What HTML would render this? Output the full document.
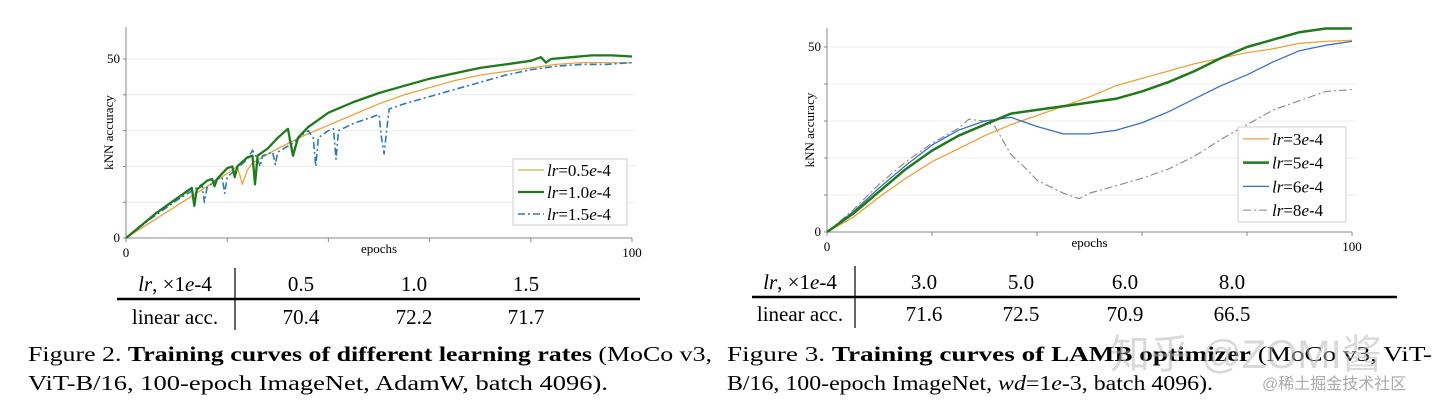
<!DOCTYPE html>
<html><head><meta charset="utf-8"><style>
html,body{margin:0;padding:0;background:#fff;}
svg{display:block;font-family:"Liberation Serif","Noto Serif CJK SC",serif;}
</style></head><body>
<svg id="root" width="1440" height="408" viewBox="0 0 1440 408" xmlns="http://www.w3.org/2000/svg">
<g id="c1"></g>
<g id="c2"></g>

<!-- left table -->
<g font-size="21" text-anchor="middle">
<text x="175" y="291"><tspan font-style="italic">lr</tspan>, ×1<tspan font-style="italic">e</tspan>-4</text>
<text x="301" y="291">0.5</text>
<text x="414" y="291">1.0</text>
<text x="526" y="291">1.5</text>
<line x1="117" y1="299" x2="640" y2="299" stroke="#000" stroke-width="2.5"/>
<line x1="235" y1="268" x2="235" y2="330" stroke="#000" stroke-width="1.2"/>
<text x="175" y="324">linear acc.</text>
<text x="301" y="324">70.4</text>
<text x="414" y="324">72.2</text>
<text x="526" y="324">71.7</text>
</g>

<!-- right table -->
<g font-size="21" text-anchor="middle">
<text x="800" y="289"><tspan font-style="italic">lr</tspan>, ×1<tspan font-style="italic">e</tspan>-4</text>
<text x="924" y="289">3.0</text>
<text x="1021" y="289">5.0</text>
<text x="1125" y="289">6.0</text>
<text x="1232" y="289">8.0</text>
<line x1="752" y1="297" x2="1397" y2="297" stroke="#000" stroke-width="2.5"/>
<line x1="855" y1="266" x2="855" y2="328" stroke="#000" stroke-width="1.2"/>
<text x="800" y="321">linear acc.</text>
<text x="924" y="321">71.6</text>
<text x="1021" y="321">72.5</text>
<text x="1125" y="321">70.9</text>
<text x="1232" y="321">66.5</text>
</g>

<!-- captions -->
<g font-size="21">
<text x="28" y="361" textLength="684" lengthAdjust="spacingAndGlyphs">Figure 2.  <tspan font-weight="bold">Training curves of different learning rates</tspan> (MoCo v3,</text>
<text x="28" y="390" textLength="580" lengthAdjust="spacingAndGlyphs">ViT-B/16, 100-epoch ImageNet, AdamW, batch 4096).</text>
<text x="727" y="361" textLength="705" lengthAdjust="spacingAndGlyphs">Figure 3.  <tspan font-weight="bold">Training curves of LAMB optimizer</tspan> (MoCo v3, ViT-</text>
<text x="727" y="390" textLength="486" lengthAdjust="spacingAndGlyphs">B/16, 100-epoch ImageNet, <tspan font-style="italic">wd</tspan>=1<tspan font-style="italic">e</tspan>-3, batch 4096).</text>
<text x="1110" y="368" font-size="40" fill="#bbb" opacity="0.55" font-family="Liberation Sans, Noto Sans CJK SC, sans-serif">知乎 @ZOMI酱</text>
<text x="1262" y="389" font-size="16" fill="#aaa" font-family="Liberation Sans, Noto Sans CJK SC, sans-serif">@稀土掘金技术社区</text>
</g>
</svg>
<script>
// ---- Chart 1 data ----
const c1OrangeEpochs=[0,5,10,15,20,22,23,24,25,30,35,40,45,50,55,60,65,70,75,80,85,90,95,100];
const c1OrangeValues=[0,4.5,9,13.5,18,20,15,19,21,25,28.5,31.5,34.5,37.5,40,42,44,45.5,46.5,47.5,48.5,49,49,48.9];
const c1GreenEpochs=[0,3,6,9,12,13,13.5,14,16,17,17.5,18,20,21,21.5,22,24,25,25.5,26,28,30,32,33,34,36,38,40,45,50,55,60,65,70,75,80,82,83,84,88,92,96,100];
const c1GreenValues=[0,3.5,7,10,13,14,9,13.5,16,16.5,14.5,16.5,19.5,20,17,20,22.5,23,15,23,25,28,30.5,23,28,31,33,35,38,40.5,42.5,44.5,46,47.5,48.5,49.5,50.5,49,50,50.5,51,51,50.7];
const c1BlueEpochs=[0,5,10,14,15,15.5,16,18,19,19.5,20,22,24,25,26,26.5,27,29,29.5,30,33,35,36,37,37.5,38,40,41,41.5,42,45,50,50.5,51,51.5,52,55,60,65,70,75,80,85,90,95,100];
const c1BlueValues=[0,5.5,10.5,14,15,10,14,16.5,17,12.5,17,19.5,22,24.5,22,20,23,24,20.5,24,26.5,29,30,28,20,28,30,30.5,22,30,32,34.5,28,23.5,30,36,37.5,39.5,41.5,43.5,45.5,47,48,48.5,48.5,49];
const c1YTicks=[0,50];
const c1XTicks=[0,100];
// ---- Chart 2 data ----
const c2Epochs=[0,5,10,15,20,25,30,35,40,45,50,55,60,65,70,75,80,85,90,95,100];
const c2OrangeValues=[0,4,9.5,14.5,19,22.5,26,29,31.5,34,36.5,39.5,41.5,43.5,45.5,47,48.5,49.5,51,51.5,51.8];
const c2GreenValues=[0,5,11,17,22,26,29,32,33,34,35,36,38,40.5,43.5,47,50,52,54,55,55];
const c2BlueEpochs=[0,5,10,15,20,25,30,35,37,40,45,50,55,60,65,70,75,80,85,90,95,100];
const c2BlueValues=[0,5.5,12,18,23.5,27.5,30,31,30,28.5,26.5,26.5,27.5,29.5,32.5,36,39.5,42.5,46,49,50.5,51.5];
const c2GrayEpochs=[0,5,10,15,20,25,27,30,32,35,38,40,45,47,48,50,55,60,65,70,75,80,85,90,95,100];
const c2GrayValues=[0,6,13,19,24,28,30.5,30,28.5,21,17,14,10.5,9.5,9,10.5,12.5,14.5,17,20.5,25,29,33,35.5,38,38.5];
const c2YTicks=[0,50];
const c2XTicks=[0,100];

const NS="http://www.w3.org/2000/svg";
function mk(p,tag,a){const e=document.createElementNS(NS,tag);for(const k in a)e.setAttribute(k,a[k]);p.appendChild(e);return e;}

function axes(g,o){
  const sx=v=>o.x0+(o.x1-o.x0)*v/100, sy=v=>o.y0-(o.y0-o.y50)*v/50;
  for(let v=10;v<=o.ymax;v+=10){const l=mk(g,'line',{x1:o.x0,x2:o.xr,y1:sy(v),y2:sy(v),stroke:'#ececec','stroke-width':1});
    
    }
  const ya=mk(g,'line',{x1:o.x0,x2:o.x0,y1:o.top,y2:o.y0,stroke:'#888','stroke-width':1});
  
  
  const xa=mk(g,'line',{x1:o.x0,x2:o.x1,y1:o.y0,y2:o.y0,stroke:'#888','stroke-width':1});
  
  
  for(let v=0;v<=100;v+=20){const t=mk(g,'line',{x1:sx(v),x2:sx(v),y1:o.y0,y2:o.y0+4,stroke:'#888'});
    
    }
  for(let v=0;v<=o.ymax;v+=10){const t=mk(g,'line',{x1:o.x0-3,x2:o.x0,y1:sy(v),y2:sy(v),stroke:'#888'});
    
    }
  o.yt.forEach(v=>{const t=mk(g,'text',{x:o.x0-6,y:sy(v)+4,'font-size':13,'text-anchor':'end'});t.textContent=v;
    
    });
  o.xt.forEach(v=>{const t=mk(g,'text',{x:sx(v),y:o.y0+19,'font-size':13,'text-anchor':'middle'});t.textContent=v;
    
    });
  const xl=mk(g,'text',{x:(o.x0+o.x1)/2,y:o.y0+15,'font-size':13,'text-anchor':'middle'});xl.textContent='epochs';
  
  
  const cy=(o.top+o.y0)/2;
  const yl=mk(g,'text',{x:o.x0-13,y:cy,'font-size':13,'text-anchor':'middle',transform:`rotate(-90 ${o.x0-13} ${cy})`});yl.textContent='kNN accuracy';
  
  
  return {sx,sy};
}
function series(g,s,ep,vals,style,name){
  const d=ep.map((e,i)=>(i?'L':'M')+s.sx(e).toFixed(1)+','+s.sy(vals[i]).toFixed(1)).join('');
  const p=mk(g,'path',Object.assign({d,fill:'none','stroke-linejoin':'round'},style));
  
  
}
function legend(g,x,y,w,h,items){
  const r=mk(g,'rect',{x,y,width:w,height:h,fill:'#fff',stroke:'#ccc'});
  
  
  const step=h/items.length;
  items.forEach((it,i)=>{const cy=y+step*(i+0.5);
    const l=mk(g,'line',Object.assign({x1:x+5,x2:x+31,y1:cy,y2:cy},it.style));
    
    
    const t=mk(g,'text',{x:x+34,y:cy+6,'font-size':17});
    t.innerHTML='<tspan font-style="italic">lr</tspan>='+it.label.replace('e','<tspan font-style="italic">e</tspan>');
    
    });
}
const O1={stroke:'#e8a33d','stroke-width':1.3}, G1={stroke:'#1f7a1a','stroke-width':2.3}, B1={stroke:'#2a7ab8','stroke-width':1.6,'stroke-dasharray':'7 3 2 3'};
const g1=document.getElementById('c1');
const s1=axes(g1,{x0:126,x1:632,xr:636,y0:238,y50:59,top:27,ymax:50,yt:c1YTicks,xt:c1XTicks});
series(g1,s1,c1OrangeEpochs,c1OrangeValues,O1,'line-lr-0.5e-4');
series(g1,s1,c1BlueEpochs,c1BlueValues,B1,'line-lr-1.5e-4');
series(g1,s1,c1GreenEpochs,c1GreenValues,G1,'line-lr-1.0e-4');
legend(g1,513,159,114,66,[{label:'0.5e-4',style:O1},{label:'1.0e-4',style:G1},{label:'1.5e-4',style:B1}]);

const O2={stroke:'#e8a33d','stroke-width':1.3}, G2={stroke:'#1f7a1a','stroke-width':2.5}, B2={stroke:'#3a6fc0','stroke-width':1.3}, K2={stroke:'#888','stroke-width':1.1,'stroke-dasharray':'8 3 2 3'};
const g2=document.getElementById('c2');
const s2=axes(g2,{x0:827,x1:1352,xr:1356,y0:232,y50:47,top:28,ymax:50,yt:c2YTicks,xt:c2XTicks});
series(g2,s2,c2GrayEpochs,c2GrayValues,K2,'line-lr-8e-4');
series(g2,s2,c2Epochs,c2OrangeValues,O2,'line-lr-3e-4');
series(g2,s2,c2BlueEpochs,c2BlueValues,B2,'line-lr-6e-4');
series(g2,s2,c2Epochs,c2GreenValues,G2,'line-lr-5e-4');
legend(g2,1238,127,108,95,[{label:'3e-4',style:O2},{label:'5e-4',style:G2},{label:'6e-4',style:B2},{label:'8e-4',style:K2}]);
</script>
</body></html>
